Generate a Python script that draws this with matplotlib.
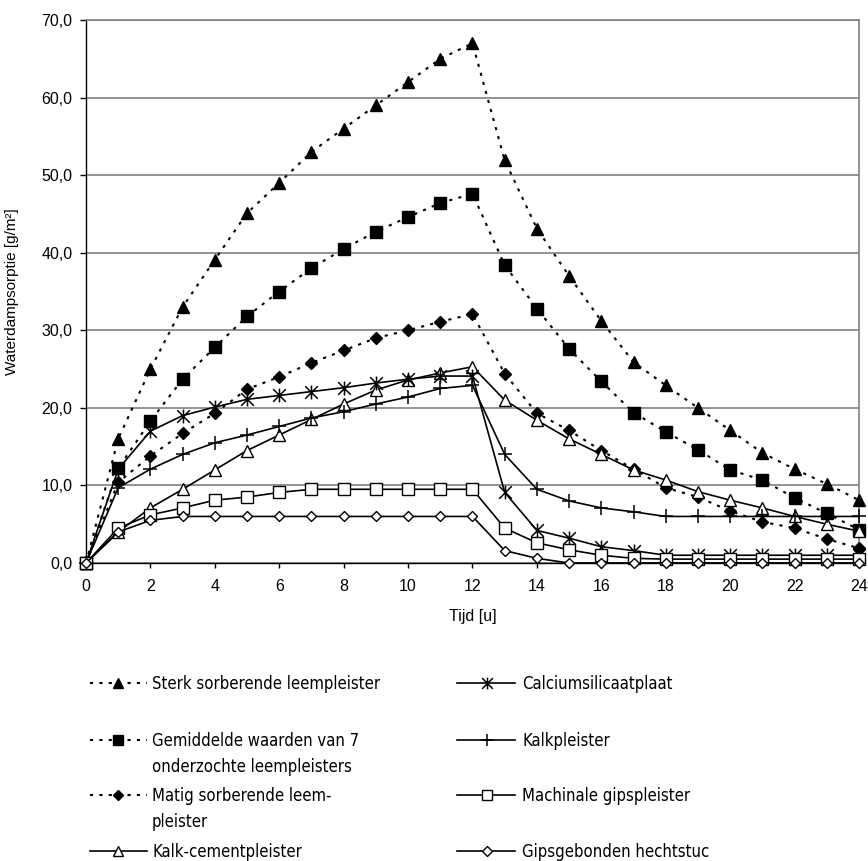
import matplotlib
matplotlib.use("Agg")
import matplotlib.pyplot as plt
from matplotlib.lines import Line2D
from matplotlib.path import Path
from matplotlib import font_manager
from matplotlib.font_manager import FontProperties

plt.rcParams['font.family'] = ['Liberation Sans', 'DejaVu Sans']

# Time axis (hours)
hours = list(range(25))

# Water vapour sorption [g/m²] per material
sterk = [0, 16.0, 25.0, 33.0, 39.1, 45.1, 49.0, 53.0, 56.0, 59.0, 62.0, 65.0, 67.0,
         51.9, 43.1, 37.0, 31.2, 25.9, 22.9, 20.0, 17.1, 14.2, 12.1, 10.2, 8.1]
gemiddelde = [0, 12.2, 18.3, 23.7, 27.8, 31.8, 35.0, 38.0, 40.5, 42.7, 44.6, 46.4, 47.6,
              38.4, 32.8, 27.6, 23.4, 19.4, 16.9, 14.6, 12.0, 10.7, 8.4, 6.4, 4.3]
matig = [0, 10.4, 13.8, 16.7, 19.3, 22.4, 24.0, 25.8, 27.4, 29.0, 30.0, 31.1, 32.1,
         24.4, 19.3, 17.1, 14.5, 12.1, 9.7, 8.5, 6.7, 5.3, 4.5, 3.1, 1.9]
kalkcement = [0, 4.0, 7.1, 9.5, 12.0, 14.5, 16.5, 18.5, 20.5, 22.3, 23.6, 24.5, 25.3,
              21.0, 18.4, 16.0, 14.0, 12.0, 10.7, 9.2, 8.1, 7.1, 6.0, 5.0, 4.1]
calcium = [0, 12.1, 17.0, 19.0, 20.1, 21.1, 21.6, 22.1, 22.6, 23.2, 23.7, 24.1, 24.1,
           9.1, 4.2, 3.2, 2.1, 1.6, 1.0, 1.0, 1.0, 1.0, 1.0, 1.0, 1.0]
kalk = [0, 9.7, 12.1, 14.0, 15.5, 16.5, 17.6, 18.7, 19.5, 20.5, 21.4, 22.5, 22.9,
        14.0, 9.5, 8.0, 7.1, 6.6, 6.0, 6.0, 6.0, 6.0, 6.0, 6.0, 6.0]
machinale = [0, 4.5, 6.2, 7.1, 8.1, 8.5, 9.1, 9.5, 9.5, 9.5, 9.5, 9.5, 9.5,
             4.5, 2.6, 1.7, 1.0, 0.6, 0.5, 0.5, 0.5, 0.5, 0.5, 0.5, 0.5]
gips = [0, 4.0, 5.5, 6.0, 6.0, 6.0, 6.0, 6.0, 6.0, 6.0, 6.0, 6.0, 6.0,
        1.6, 0.6, 0.0, 0.0, 0.0, 0.0, 0.0, 0.0, 0.0, 0.0, 0.0, 0.0]

labels = [
    "Sterk sorberende leempleister",
    "Gemiddelde waarden van 7\nonderzochte leempleisters",
    "Matig sorberende leem-\npleister",
    "Kalk-cementpleister",
    "Calciumsilicaatplaat",
    "Kalkpleister",
    "Machinale gipspleister",
    "Gipsgebonden hechtstuc",
]

yticks = list(range(0, 71, 10))
xticks = list(range(0, 25, 2))

# Asterisk marker: an X with a vertical bar through it
star_path = Path(
    [(-0.5, -0.5), (0.5, 0.5), (-0.5, 0.5), (0.5, -0.5), (0, -0.55), (0, 0.55)],
    [Path.MOVETO, Path.LINETO, Path.MOVETO, Path.LINETO, Path.MOVETO, Path.LINETO],
)

dotted = (0, (1.5, 3.0))
styles = [
    dict(ls=dotted, lw=1.5, marker='^', ms=9, mfc='black', mec='black'),
    dict(ls=dotted, lw=1.5, marker='s', ms=8, mfc='black', mec='black'),
    dict(ls=dotted, lw=1.5, marker='D', ms=6.5, mfc='black', mec='black'),
    dict(ls='-', lw=1.2, marker='^', ms=9, mfc='white', mec='black', mew=1.0),
    dict(ls='-', lw=1.2, marker=star_path, ms=10, mfc='none', mec='black', mew=1.1),
    dict(ls='-', lw=1.2, marker='+', ms=10, mec='black', mew=1.1),
    dict(ls='-', lw=1.2, marker='s', ms=8, mfc='white', mec='black', mew=1.0),
    dict(ls='-', lw=1.2, marker='D', ms=5.5, mfc='white', mec='black', mew=1.0),
]
series = [sterk, gemiddelde, matig, kalkcement, calcium, kalk, machinale, gips]


def narrow_legend_font():
    """Pick an upright, regular-weight condensed sans face if one is installed."""
    preferred = ['Liberation Sans Narrow', 'Noto Sans', 'DejaVu Sans', 'Roboto',
                 'Open Sans', 'Inter']
    for wanted in ('condensed', 'semi-condensed'):
        for fam in preferred:
            for f in font_manager.fontManager.ttflist:
                if f.name != fam or f.style != 'normal':
                    continue
                if f.weight not in (400, 'normal', 'regular', 'book'):
                    continue
                if 'Extra' in f.fname or 'Ultra' in f.fname:
                    continue
                if f.stretch == wanted or ('Narrow' in f.name and wanted == 'condensed'):
                    return FontProperties(fname=f.fname)
    return None


legend_fp = narrow_legend_font()
if legend_fp is not None:
    legend_fp.set_size(12)
else:
    legend_fp = FontProperties(family=['Liberation Sans'], size=11.5)

W, H = 868, 861
fig = plt.figure(figsize=(W / 100, H / 100), dpi=100)
ax = fig.add_axes([86 / W, 1 - 563 / H, (859 - 86) / W, (563 - 20) / H])

for vals, st, lab in zip(series, styles, labels):
    ax.plot(hours, vals, color='black', clip_on=False, zorder=3, label=lab, **st)

ax.set_xlim(0, 24)
ax.set_ylim(0, 70)
ax.set_xticks(xticks)
ax.set_xticklabels([str(t) for t in xticks])
ax.set_yticks(yticks)
ax.set_yticklabels([f"{t:.1f}".replace('.', ',') for t in yticks])

ax.yaxis.grid(True, color='#808080', lw=1.2)
ax.set_axisbelow(True)
for side in ('top', 'right'):
    ax.spines[side].set_color('#808080')
    ax.spines[side].set_linewidth(1.2)
for side in ('left', 'bottom'):
    ax.spines[side].set_color('black')
    ax.spines[side].set_linewidth(1.0)
ax.spines['bottom'].set_zorder(2.5)

ax.tick_params(axis='y', direction='out', length=4.3, width=1.0, pad=5.5, labelsize=11.5)
ax.tick_params(axis='x', direction='out', length=3.6, width=1.0, pad=8, labelsize=11.5)

ax.set_xlabel("Tijd [u]", fontsize=11.5, va='center')
ax.xaxis.set_label_coords(0.5, (563 - 617) / 543)
ax.set_ylabel("Waterdampsorptie [g/m²]", fontsize=11, va='center', ha='center',
              rotation_mode='anchor')
ax.yaxis.set_label_coords((12 - 86) / 773, 0.5)

# Legend drawn below the plot in two columns
def fx(px):
    return px / W

def fy(py):
    return 1 - py / H

rows = [683, 740, 795, 851]
columns = [(90, 147, 118, 152), (457, 515, 487, 522)]
line_gap = 26
for i, (st, lab) in enumerate(zip(styles, labels)):
    col, row = divmod(i, 4)
    x0, x1, xm, xt = columns[col]
    y = rows[row]
    hst = dict(st)
    hst['ms'] = st['ms'] * 0.85
    handle = Line2D([fx(x0), fx(xm), fx(x1)], [fy(y)] * 3, color='black',
                    transform=fig.transFigure, markevery=[1], **hst)
    fig.add_artist(handle)
    for k, line in enumerate(lab.split('\n')):
        fig.text(fx(xt), fy(y + 6 + k * line_gap), line, fontproperties=legend_fp,
                 ha='left', va='baseline')

fig.savefig("out.png", dpi=100)
